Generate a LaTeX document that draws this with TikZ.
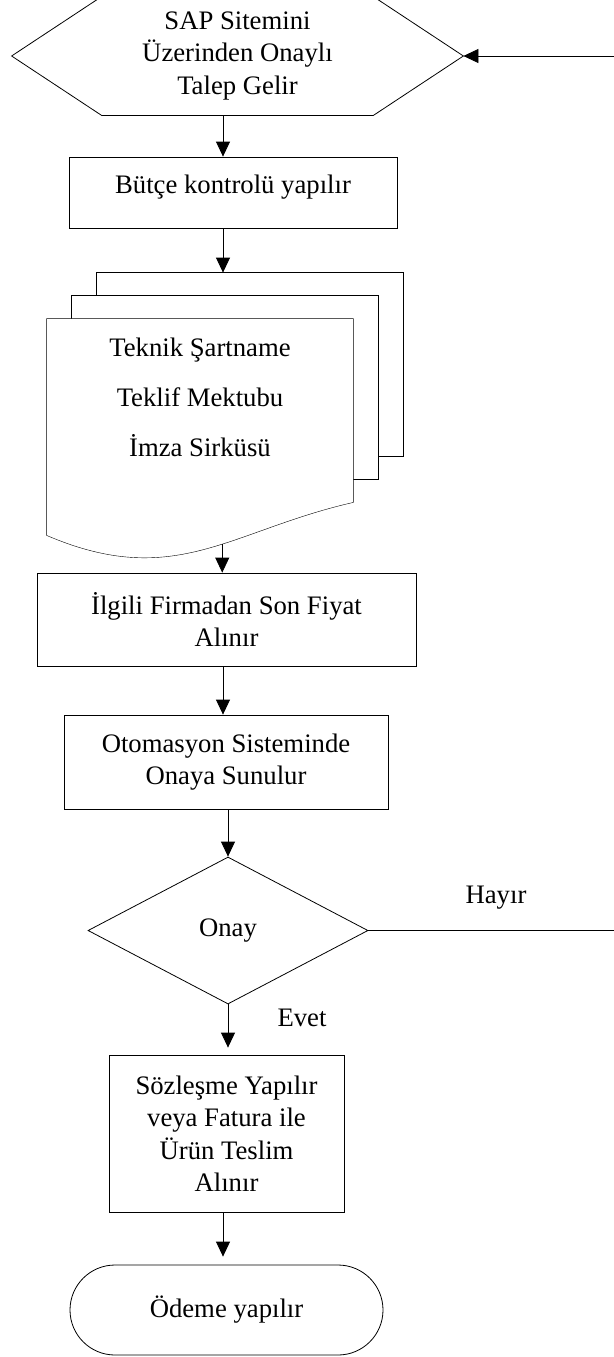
\documentclass[tikz,border=0pt]{standalone}
\usepackage{fontspec}
\setmainfont{Liberation Serif}
\usetikzlibrary{shapes,backgrounds,calc}
\usetikzlibrary{arrows.meta}
\usetikzlibrary{positioning}
\tikzset{
    procBox/.style={
    ,   rectangle
    ,   draw=black
    ,   fill=white
    ,   align=center
    ,   inner sep=0pt
    },
    hexBox/.style={ % outline drawn by hand below
    ,   rectangle
    ,   align=center
    ,   inner sep=0pt
    ,   minimum width=451pt
    ,   minimum height=118pt
    },
    docText/.style={
    ,   rectangle
    ,   align=center
    ,   inner sep=0pt
    ,   minimum width=306pt
    ,   minimum height=156pt
    ,   font={\fontsize{26.7pt}{50pt}\selectfont}
    },
    decision/.style={
    ,   diamond
    ,   draw=black
    ,   fill=white
    ,   inner sep=0pt
    ,   minimum width=280pt
    ,   minimum height=147pt
    },
    terminal/.style={
    ,   rectangle
    ,   rounded corners=45pt
    ,   draw=black
    ,   fill=white
    ,   inner sep=0pt
    ,   minimum width=313pt
    ,   minimum height=90pt
    },
    page/.style={
    ,   draw=black
    ,   fill=white
    },
    lbl/.style={
    ,   inner sep=0pt
    },
    arr/.style={
    ,   -{Triangle[length=15pt,width=14pt]}
    },
}

\begin{document}
\begin{tikzpicture}[x=1pt, y=-1pt, line width=0.8pt, font={\fontsize{26.7pt}{32.5pt}\selectfont}]
\useasboundingbox (0,0) rectangle (613,1357);
\coordinate (col) at (223,0); % column of the down arrows
\coordinate (loop) at (640,0); % return line runs outside the page

% start
\node[hexBox] (talep) at (237.5,56) {SAP Sitemini\\Üzerinden Onaylı\\Talep Gelir};
\draw (talep.west) -- ($(talep.north west)+(90,0)$) -- ($(talep.north east)+(-90,0)$)
  -- (talep.east) -- ($(talep.south east)+(-90,0)$) -- ($(talep.south west)+(90,0)$) -- cycle;

\node[procBox, minimum width=328pt, minimum height=71pt, text depth=17pt] (butce) at (233,192.5) {Bütçe kontrolü yapılır};

% stacked documents
\node[docText] (docA) at (200,397) {Teknik Şartname\\Teklif Mektubu\\İmza Sirküsü};
\begin{scope}[on background layer]
\foreach \k in {2,1}{
  \draw[page] ($(docA.north west)+(25*\k,-23*\k)$) rectangle ($(docA.south east)+(25*\k,27-23*\k)$);
}
\draw[page] (docA.north west) -- (docA.north east) -- ($(docA.south east)+(0,27)$)
  .. controls ($(docA.south)+(30,55)$) and ($(docA.south)+(-25,115)$) .. ($(docA.south west)+(0,60)$)
  coordinate[pos=0.425] (docbot) -- cycle;
\end{scope}
\coordinate (docTop) at ($(docA.north)+(0,-46)$);

\node[procBox, minimum width=379pt, minimum height=93pt] (ilgili) at (226.5,619.5) {İlgili Firmadan Son Fiyat\\Alınır};
\node[procBox, minimum width=324pt, minimum height=94pt] (otomasyon) at (226,762) {Otomasyon Sisteminde\\Onaya Sunulur};
\node[decision] (onay) at (228,930.5) {Onay};
\node[procBox, minimum width=235pt, minimum height=157pt] (sozlesme) at (226.5,1133.5) {Sözleşme Yapılır\\veya Fatura ile\\Ürün Teslim\\Alınır};
\node[terminal] (odeme) at (226.5,1310) {Ödeme yapılır};

\node[lbl] (hayir) at (496,898) {Hayır};
\node[lbl] (evet) at (302,1018) {Evet};

% connectors
\draw[arr] (talep.south -| col) -- (butce.north -| col);
\draw[arr] (butce.south -| col) -- (docTop -| col);
\draw[arr] (docbot) -- (docbot |- ilgili.north);
\draw[arr] (ilgili.south -| col) -- (otomasyon.north -| col);
\draw[arr] (otomasyon.south -| onay.north) -- (onay.north);
\draw[arr, shorten >=7pt] (onay.south) -- (sozlesme.north -| onay.south);
\draw[arr, shorten >=8pt] (sozlesme.south -| col) -- (odeme.north -| col);
\draw[arr] (onay.east) -- (onay.east -| loop) |- (talep.east);
\end{tikzpicture}
\end{document}
